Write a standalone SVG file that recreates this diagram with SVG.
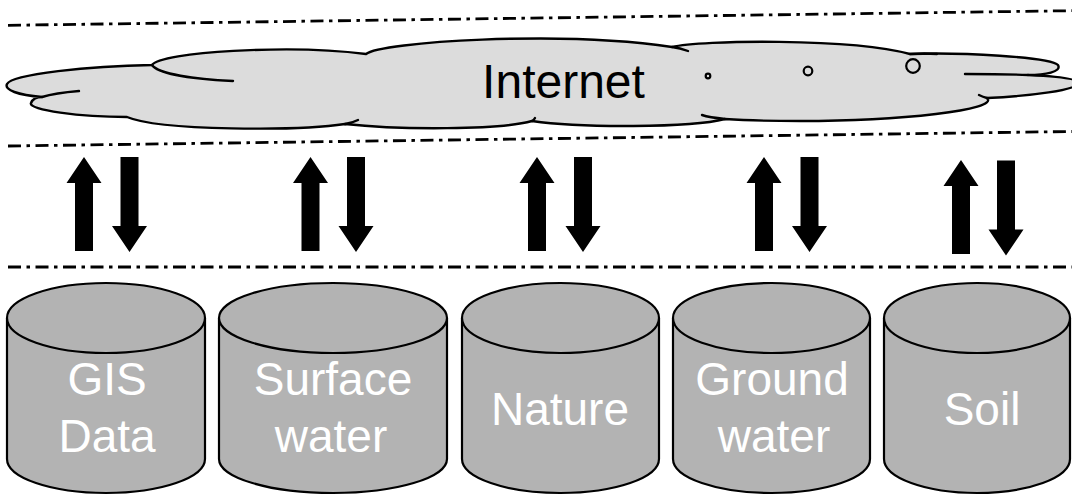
<svg xmlns="http://www.w3.org/2000/svg" xmlns:xlink="http://www.w3.org/1999/xlink" width="1072" height="495" viewBox="0 0 1072 495">
<style>
.sep{fill:none;stroke:#000;stroke-width:2.8;stroke-dasharray:13 5.5 3.5 5.5}
.cloud{fill:#dcdcdc;stroke:#000;stroke-width:2.4;stroke-linejoin:round}
.cl{fill:none;stroke:#000;stroke-width:2.4;stroke-linecap:round}
.bub{fill:#dcdcdc;stroke:#000;stroke-width:2.2}
.cyl{fill:#b3b3b3;stroke:#000;stroke-width:2.2}
.arrow{fill:#000}
.lbl{font-family:"Liberation Sans",Arial,sans-serif;font-size:46px;fill:#fff;text-anchor:middle}
.net{font-family:"Liberation Sans",Arial,sans-serif;font-size:48px;fill:#000;text-anchor:middle}
</style>
<defs>
<polygon id="up" points="0,0 17.5,26 9,26 9,94 -9,94 -9,26 -17.5,26"/>
<polygon id="down" points="-9,0 9,0 9,69 17.5,69 0,95 -17.5,69 -9,69"/>
</defs>
<rect width="1072" height="495" fill="#fff"/>
<g id="separators">
<line class="sep" x1="8" y1="25.3" x2="1072" y2="10.7"/>
<line class="sep" x1="8" y1="146" x2="1072" y2="131.5"/>
<line class="sep" x1="8" y1="267" x2="1072" y2="267"/>
</g>
<g id="internet">
<path class="cloud" d="M42,97 C18,95 4,90 7,84 C12,74 90,66 152,65 C160,52 290,44 366,54 C380,42 560,30 672,47 C700,40 850,38 910,54 C960,52 1050,57 1058,65 C1062,72 1045,75 1028,75 C1050,76 1078,78 1078,83 C1078,90 1030,96 987,98 C1000,110 900,121 800,121 C760,121 740,120 725,119 C690,128 580,128 532,121 C500,130 400,130 345,124 C300,131 160,131 127,117 C80,117 28,110 31,103 C33,98 38,97 42,97 Z"/>
<path class="cl" d="M152,65 C158,74 195,79 233,81"/>
<path class="cl" d="M42,97 C55,93 67,92 79,91"/>
<path class="cl" d="M345,124 Q352,123 358,120"/>
<path class="cl" d="M532,121 Q534,120 535,118"/>
<path class="cl" d="M725,119 C715,118 708,117 702,115"/>
<path class="cl" d="M672,47 Q680,48 688,51"/>
<path class="cl" d="M910,54 Q925,53 937,54"/>
<path class="cl" d="M1028,75 C1005,74 985,74 965,74"/>
<path class="cl" d="M987,98 C983,97 981,96 979,95"/>
<circle class="bub" cx="708" cy="76" r="2.3"/>
<circle class="bub" cx="808" cy="71" r="4.3"/>
<circle class="bub" cx="913" cy="66" r="6.8"/>
<text class="net" x="563.5" y="98">Internet</text>
</g>
<g id="connectors" class="arrow">
<use xlink:href="#up" x="84" y="157"/><use xlink:href="#down" x="129.5" y="157"/>
<use xlink:href="#up" x="310.5" y="157"/><use xlink:href="#down" x="356" y="157"/>
<use xlink:href="#up" x="537" y="157"/><use xlink:href="#down" x="583" y="157"/>
<use xlink:href="#up" x="764" y="157"/><use xlink:href="#down" x="809.5" y="157"/>
<use xlink:href="#up" x="961" y="160"/><use xlink:href="#down" x="1006" y="160.5"/>
</g>
<g id="node-gis">
<path class="cyl" d="M7,318 L7,459 A99,34 0 0 0 205,459 L205,318"/>
<ellipse class="cyl" cx="106" cy="318" rx="99" ry="35"/>
<text class="lbl" x="107" y="395">GIS</text>
<text class="lbl" x="107" y="452">Data</text>
</g>
<g id="node-surface">
<path class="cyl" d="M219,318 L219,459 A114,34 0 0 0 447,459 L447,318"/>
<ellipse class="cyl" cx="333" cy="318" rx="114" ry="35"/>
<text class="lbl" x="333" y="395">Surface</text>
<text class="lbl" x="331" y="452">water</text>
</g>
<g id="node-nature">
<path class="cyl" d="M462,318 L462,459 A98.5,34 0 0 0 659,459 L659,318"/>
<ellipse class="cyl" cx="560.5" cy="318" rx="98.5" ry="35"/>
<text class="lbl" x="560" y="425">Nature</text>
</g>
<g id="node-ground">
<path class="cyl" d="M673,318 L673,459 A98.5,34 0 0 0 870,459 L870,318"/>
<ellipse class="cyl" cx="771.5" cy="318" rx="98.5" ry="35"/>
<text class="lbl" x="772" y="395">Ground</text>
<text class="lbl" x="774" y="452">water</text>
</g>
<g id="node-soil">
<path class="cyl" d="M884,318 L884,459 A93,34 0 0 0 1070,459 L1070,318"/>
<ellipse class="cyl" cx="977" cy="318" rx="93" ry="35"/>
<text class="lbl" x="982" y="425">Soil</text>
</g>
</svg>
